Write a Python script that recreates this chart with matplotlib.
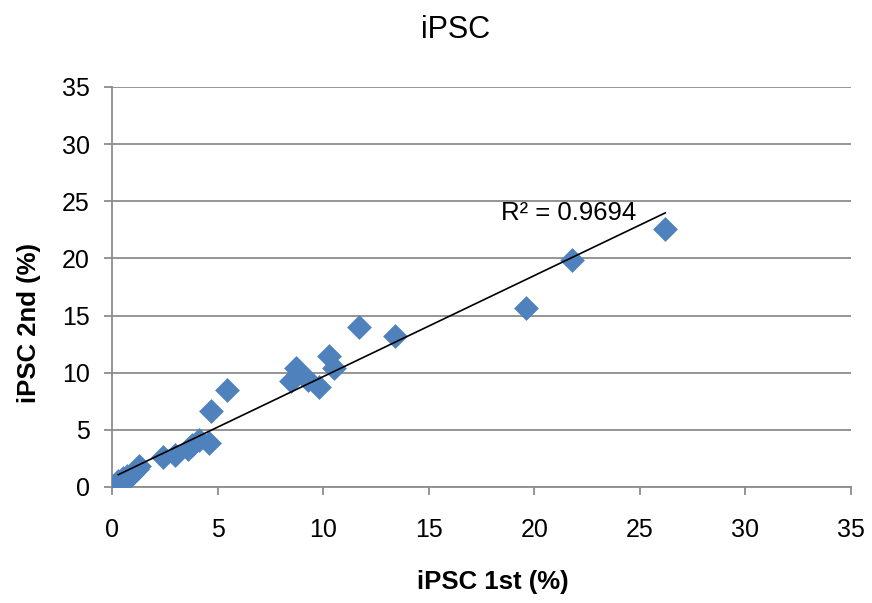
import matplotlib
matplotlib.use("Agg")
import matplotlib.pyplot as plt
import numpy as np

plt.rcParams['font.family'] = ['Liberation Sans', 'DejaVu Sans']

x_first = [0.3, 0.4, 0.5, 0.6, 0.7, 0.8, 1.0, 1.2, 1.3,
           2.4, 3.0, 3.6, 3.8, 4.1, 4.6, 4.7, 5.45,
           8.5, 8.7, 9.3, 9.8, 10.3, 10.5, 11.7, 13.4,
           19.6, 21.8, 26.2]
y_second = [0.5, 0.2, 0.8, 0.6, 1.0, 0.9, 1.2, 1.6, 1.8,
            2.6, 2.8, 3.3, 3.7, 4.1, 3.85, 6.65, 8.45,
            9.3, 10.4, 9.4, 8.75, 11.5, 10.4, 14.0, 13.25,
            15.7, 19.9, 22.6]
r2_label = "R² = 0.9694"

W, H = 872, 603
fig = plt.figure(figsize=(W / 100, H / 100), dpi=100)
ax = fig.add_axes([112 / W, 1 - 487 / H, (851 - 112) / W, (487 - 87) / H])

ax.scatter(x_first, y_second, marker='D', s=160, color='#4F81BD', zorder=3, linewidths=0)

coef = np.polyfit(x_first, y_second, 1)
xs = np.array([min(x_first), max(x_first)])
ax.plot(xs, np.polyval(coef, xs), color='black', lw=1.2, zorder=4)

ax.text(18.4, 24.0, r2_label, fontsize=18.5, va='center', ha='left', zorder=5)

ax.set_xlim(0, 35)
ax.set_ylim(0, 35)
ax.set_xticks(range(0, 36, 5))
ax.set_yticks(range(0, 36, 5))
ax.yaxis.grid(True, color='#8c8c8c', lw=1.3)
ax.set_axisbelow(True)
for s in ['top', 'right']:
    ax.spines[s].set_visible(False)
for s in ['left', 'bottom']:
    ax.spines[s].set_color('#8c8c8c')
    ax.spines[s].set_linewidth(1.3)
ax.tick_params(axis='both', which='major', labelsize=18, length=6, width=1.3,
               color='#8c8c8c', direction='out')
ax.tick_params(axis='x', pad=16)
ax.tick_params(axis='y', pad=10)

fig.text(456 / W, 1 - 30 / H, 'iPSC', fontsize=22, ha='center', va='center')
fig.text(493 / W, 1 - 582 / H, 'iPSC 1st (%)', fontsize=18.5, fontweight='bold',
         ha='center', va='center')
fig.text(29 / W, 1 - 323 / H, 'iPSC 2nd (%)', fontsize=18.5, fontweight='bold',
         ha='center', va='center', rotation=90)

fig.savefig('out.png', dpi=100)
